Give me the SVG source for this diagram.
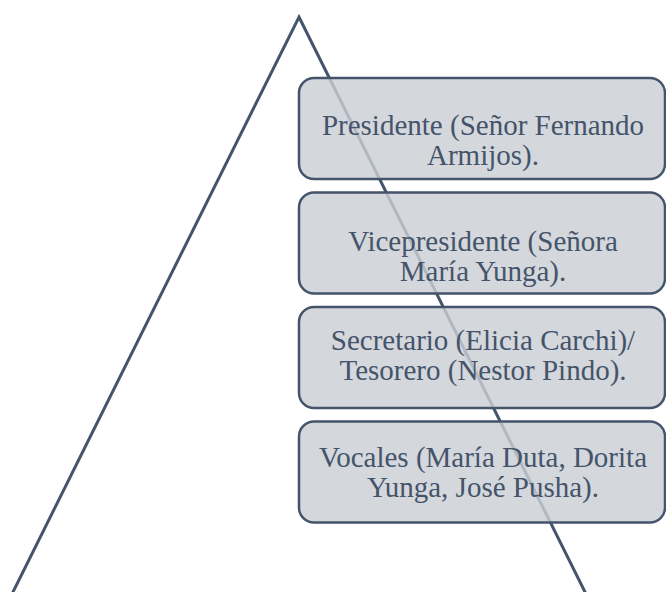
<svg xmlns="http://www.w3.org/2000/svg" width="666" height="592" viewBox="0 0 666 592">
<style>
.tri{fill:none;stroke:#44546A;stroke-width:3;stroke-linejoin:miter}
.box{fill:#CBCED4;fill-opacity:0.82;stroke:#44546A;stroke-width:2.5}
.lbl{font-family:"Liberation Serif","Times New Roman",serif;font-size:29px;fill:#44546A;text-anchor:middle}
</style>
<rect width="666" height="592" fill="#FFFFFF"/>
<g id="connectors">
<polygon class="tri" points="299,17 587.5,597 10.5,597"/>
</g>
<g id="node1">
<rect class="box" x="299" y="78" width="366" height="101" rx="15"/>
<text class="lbl" x="483" y="135">Presidente (Señor Fernando</text>
<text class="lbl" x="483" y="165">Armijos).</text>
</g>
<g id="node2">
<rect class="box" x="299" y="192.5" width="366" height="101" rx="15"/>
<text class="lbl" x="483" y="251">Vicepresidente (Señora</text>
<text class="lbl" x="483" y="281">María Yunga).</text>
</g>
<g id="node3">
<rect class="box" x="299" y="307" width="366" height="101" rx="15"/>
<text class="lbl" x="483" y="350">Secretario (Elicia Carchi)/</text>
<text class="lbl" x="483" y="380">Tesorero (Nestor Pindo).</text>
</g>
<g id="node4">
<rect class="box" x="299" y="421.5" width="366" height="101" rx="15"/>
<text class="lbl" x="483" y="467">Vocales (María Duta, Dorita</text>
<text class="lbl" x="483" y="497">Yunga, José Pusha).</text>
</g>
</svg>
